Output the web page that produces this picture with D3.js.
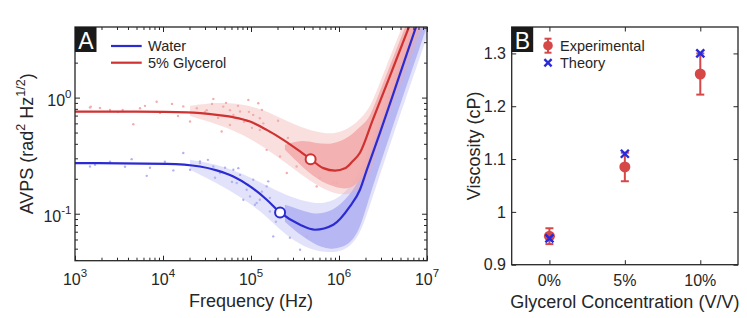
<!DOCTYPE html>
<html><head><meta charset="utf-8">
<script src="https://cdn.jsdelivr.net/npm/d3@7"></script>
<style>
body{margin:0;background:#fff}
svg{display:block}
text{font-family:"Liberation Sans",Arial,Helvetica,sans-serif;fill:#262626}
</style>
</head><body>
<svg id="chart" width="747" height="318"></svg>
<script>
// ---------------- DATA ----------------
// Panel A: tick labels
const freqMajor = [1e3, 1e4, 1e5, 1e6, 1e7];
const freqExp = ["3", "4", "5", "6", "7"];
const avpsMajor = [0.1, 1];
const avpsExp = ["-1", "0"];

// Panel A: fitted model curves (Hz, rad^2 Hz^1/2)
const waterFitF = [1e3, 1.1e4, 2.63e4, 4.07e4, 6.3e4, 9.75e4, 1.51e5, 2.14e5, 3.61e5, 5.33e5, 8.61e5, 1.33e6, 1.73e6, 2.07e6, 2.92e6, 4.68e6, 7.5e6, 1e7];
const waterFitV = [0.273, 0.269, 0.255, 0.236, 0.209, 0.172, 0.132, 0.1026, 0.0804, 0.0728, 0.0804, 0.1156, 0.161, 0.239, 0.497, 1.42, 4.06, 7.6];
const glycFitF = [1e3, 5e3, 1.88e4, 4.07e4, 6.24e4, 9.75e4, 1.51e5, 2.33e5, 3.61e5, 4.76e5, 6.64e5, 9.02e5, 1.17e6, 1.41e6, 1.73e6, 2.42e6, 3.8e6, 6.24e6, 1e7];
const glycFitV = [0.758, 0.756, 0.745, 0.710, 0.678, 0.622, 0.527, 0.433, 0.344, 0.295, 0.247, 0.235, 0.246, 0.280, 0.335, 0.643, 1.54, 4.06, 10.5];

// Panel A: highlighted points (open circles)
const waterMarkF = [2.14e5];
const waterMarkV = [0.1026];
const glycMarkF = [4.76e5];
const glycMarkV = [0.295];

// Panel A: measured cloud, sparse outer envelope (Hz, low, high)
const waterOuterF = [2.03e4, 4.45e4, 8.55e4, 1.44e5, 2.43e5, 4.11e5, 6.93e5, 1.17e6, 1.73e6, 2.25e6, 2.92e6, 3.8e6, 4.94e6, 6.41e6, 8.32e6, 1e7];
const waterOuterLo = [0.239, 0.178, 0.132, 0.098, 0.0659, 0.0510, 0.0461, 0.0471, 0.0647, 0.1195, 0.216, 0.392, 0.710, 1.26, 2.24, 3.33];
const waterOuterHi = [0.291, 0.264, 0.216, 0.178, 0.146, 0.127, 0.1195, 0.146, 0.230, 0.400, 0.696, 1.24, 2.24, 3.97, 6.92, 6.92];
// dense core envelope
const waterCoreF = [2.43e5, 3.61e5, 5.34e5, 7.9e5, 1.03e6, 1.33e6, 1.73e6, 2.25e6, 2.92e6, 3.8e6, 4.94e6, 6.41e6, 8.32e6, 1e7];
const waterCoreLo = [0.0853, 0.0659, 0.0541, 0.0490, 0.0510, 0.0552, 0.0728, 0.146, 0.264, 0.478, 0.866, 1.54, 2.73, 4.14];
const waterCoreHi = [0.1195, 0.108, 0.098, 0.104, 0.1195, 0.146, 0.196, 0.341, 0.594, 1.05, 1.91, 3.40, 6.02, 6.92];

const glycOuterF = [2.03e4, 4.45e4, 9.75e4, 1.87e5, 3.16e5, 5.34e5, 9.01e5, 1.41e6, 1.97e6, 2.37e6, 2.92e6, 3.8e6, 4.94e6, 6.41e6, 8.32e6, 1e7];
const glycOuterLo = [0.696, 0.582, 0.450, 0.321, 0.239, 0.178, 0.146, 0.146, 0.178, 0.239, 0.433, 0.754, 1.26, 2.11, 3.53, 4.94];
const glycOuterHi = [0.849, 0.918, 0.866, 0.710, 0.582, 0.507, 0.478, 0.560, 0.72, 0.90, 1.34, 2.24, 3.67, 6.1, 6.92, 6.92];
const glycCoreF = [2.43e5, 3.61e5, 5.34e5, 7.9e5, 1.17e6, 1.52e6, 1.97e6, 2.25e6, 2.92e6, 3.8e6, 4.94e6, 6.41e6, 8.32e6, 1e7];
const glycCoreLo = [0.355, 0.264, 0.204, 0.174, 0.161, 0.174, 0.216, 0.321, 0.560, 0.937, 1.57, 2.57, 4.30, 5.90];
const glycCoreHi = [0.392, 0.433, 0.408, 0.392, 0.433, 0.510, 0.610, 0.682, 1.14, 1.89, 3.13, 5.25, 6.92, 6.92];

// Panel A: sparse measured points
const waterDotF = [1480, 1690, 2500, 3700, 4400, 6530, 7110, 10500, 13100, 17000, 20300, 26300, 26300, 32400, 37300, 39000, 44400, 50700, 60800, 63000, 68800, 71800, 75000, 81900, 89300, 92500, 97500, 106000, 111000, 116000, 126000, 133000, 150700, 157000, 164000, 164000, 179000, 192000, 277000, 361000, 430000];
const waterDotV = [0.255, 0.264, 0.280, 0.254, 0.295, 0.212, 0.249, 0.280, 0.236, 0.333, 0.239, 0.282, 0.273, 0.291, 0.255, 0.204, 0.224, 0.249, 0.188, 0.239, 0.184, 0.247, 0.216, 0.132, 0.161, 0.178, 0.141, 0.196, 0.1195, 0.124, 0.132, 0.155, 0.172, 0.19, 0.1047, 0.137, 0.0638, 0.0853, 0.0622, 0.049, 0.0638];
const glycDotF = [1480, 1510, 1920, 2500, 3080, 3480, 4600, 5480, 6240, 8470, 9250, 12650, 14800, 17000, 20300, 24200, 30000, 31400, 36100, 37300, 42200, 46400, 48400, 52000, 57700, 57700, 63100, 71100, 75000, 83200, 93300, 94800, 102600, 106000, 121000, 126000, 126000, 133000, 138000, 150700, 164000, 203000, 214000, 255000, 263000, 330000, 558000, 608000, 861000, 942000];
const glycDotV = [0.82, 0.837, 0.815, 0.784, 0.754, 0.784, 0.59, 0.81, 0.849, 0.92, 0.738, 0.883, 0.696, 0.84, 0.622, 0.81, 0.754, 0.78, 0.883, 0.975, 0.669, 0.51, 0.837, 0.90, 0.78, 0.582, 0.71, 0.849, 0.76, 0.618, 0.955, 0.754, 0.549, 0.71, 0.895, 0.665, 0.527, 0.784, 0.60, 0.355, 0.507, 0.631, 0.311, 0.224, 0.450, 0.255, 0.172, 0.203, 0.184, 0.184];

const legendA = ["Water", "5% Glycerol"];

// Panel B
const conc = [0, 5, 10];
const concLabels = ["0%", "5%", "10%"];
const expMean = [0.954, 1.085, 1.261];
const expErr = [0.015, 0.027, 0.039];
const theory = [0.950, 1.110, 1.300];
const viscTicks = [0.9, 1.0, 1.1, 1.2, 1.3];
const viscTickLabels = ["0.9", "1", "1.1", "1.2", "1.3"];
const legendB = ["Experimental", "Theory"];

// ---------------- STYLE ----------------
const INK = "#262626";
const BLUE = "#2b2bd2";
const RED = "#d03131";
const BLUE_PT = "#b2b2f2";
const RED_PT = "#f2acac";
const EXP_RED = "#d64848";
const TH_BLUE = "#2929d8";

const svg = d3.select("#chart");
svg.append("rect").attr("width", 747).attr("height", 318).attr("fill", "#fff");
const defs = svg.append("defs");

// ================= PANEL A =================
const A = {l: 75, r: 427, t: 27, b: 260.7};
const xA = d3.scaleLog().domain([1e3, 1e7]).range([A.l, A.r]);
const yA = d3.scaleLog().domain([0.0394, 4.055]).range([A.b, A.t]);

defs.append("clipPath").attr("id", "clipA").append("rect")
  .attr("x", A.l).attr("y", A.t).attr("width", A.r - A.l).attr("height", A.b - A.t);
const pA = svg.append("g").attr("clip-path", "url(#clipA)");

function bandPath(F, LO, HI) {
  return d3.area()
    .x((d, i) => xA(F[i])).y0((d, i) => yA(LO[i])).y1((d, i) => yA(HI[i]))
    .curve(d3.curveBasis)(F);
}
function linePath(F, V) {
  return d3.line().x((d, i) => xA(F[i])).y((d, i) => yA(V[i])).curve(d3.curveMonotoneX)(F);
}

// water cloud
pA.append("path").attr("d", bandPath(waterOuterF, waterOuterLo, waterOuterHi)).attr("fill", BLUE_PT).attr("opacity", 0.38);
pA.append("path").attr("d", bandPath(waterCoreF, waterCoreLo, waterCoreHi)).attr("fill", BLUE_PT).attr("opacity", 0.9);
pA.selectAll(".wd").data(waterDotF).join("circle").attr("cx", (d) => xA(d)).attr("cy", (d, i) => yA(waterDotV[i])).attr("r", 1.2).attr("fill", BLUE_PT);
// glycerol cloud
pA.append("path").attr("d", bandPath(glycOuterF, glycOuterLo, glycOuterHi)).attr("fill", RED_PT).attr("opacity", 0.38);
pA.append("path").attr("d", bandPath(glycCoreF, glycCoreLo, glycCoreHi)).attr("fill", RED_PT).attr("opacity", 0.9);
pA.selectAll(".gd").data(glycDotF).join("circle").attr("cx", (d) => xA(d)).attr("cy", (d, i) => yA(glycDotV[i])).attr("r", 1.2).attr("fill", RED_PT);
// fits
pA.append("path").attr("d", linePath(waterFitF, waterFitV)).attr("fill", "none").attr("stroke", BLUE).attr("stroke-width", 2.2);
pA.append("path").attr("d", linePath(glycFitF, glycFitV)).attr("fill", "none").attr("stroke", RED).attr("stroke-width", 2.2);
pA.selectAll(".wm").data(waterMarkF).join("circle").attr("cx", (d) => xA(d)).attr("cy", (d, i) => yA(waterMarkV[i])).attr("r", 5).attr("fill", "#fff").attr("stroke", BLUE).attr("stroke-width", 2);
pA.selectAll(".gm").data(glycMarkF).join("circle").attr("cx", (d) => xA(d)).attr("cy", (d, i) => yA(glycMarkV[i])).attr("r", 5).attr("fill", "#fff").attr("stroke", RED).attr("stroke-width", 2);

// axes A
const xMinor = xA.ticks().filter(v => !freqMajor.some(m => Math.abs(v / m - 1) < 1e-6));
const yMinor = yA.ticks().filter(v => !avpsMajor.some(m => Math.abs(v / m - 1) < 1e-6));
function styleAxis(g) {
  g.select(".domain").remove();
  g.selectAll("line").attr("stroke", INK).attr("stroke-width", 1);
  g.selectAll("text").remove();
}
svg.append("g").attr("transform", `translate(0,${A.b})`).call(d3.axisBottom(xA).tickValues(freqMajor).tickSizeInner(-5).tickSizeOuter(0)).call(styleAxis);
svg.append("g").attr("transform", `translate(0,${A.b})`).call(d3.axisBottom(xA).tickValues(xMinor).tickSizeInner(-3).tickSizeOuter(0)).call(styleAxis);
svg.append("g").attr("transform", `translate(0,${A.t})`).call(d3.axisTop(xA).tickValues(freqMajor).tickSizeInner(-5).tickSizeOuter(0)).call(styleAxis);
svg.append("g").attr("transform", `translate(0,${A.t})`).call(d3.axisTop(xA).tickValues(xMinor).tickSizeInner(-3).tickSizeOuter(0)).call(styleAxis);
svg.append("g").attr("transform", `translate(${A.l},0)`).call(d3.axisLeft(yA).tickValues(avpsMajor).tickSizeInner(-5).tickSizeOuter(0)).call(styleAxis);
svg.append("g").attr("transform", `translate(${A.l},0)`).call(d3.axisLeft(yA).tickValues(yMinor).tickSizeInner(-3).tickSizeOuter(0)).call(styleAxis);
svg.append("g").attr("transform", `translate(${A.r},0)`).call(d3.axisRight(yA).tickValues(avpsMajor).tickSizeInner(-5).tickSizeOuter(0)).call(styleAxis);
svg.append("g").attr("transform", `translate(${A.r},0)`).call(d3.axisRight(yA).tickValues(yMinor).tickSizeInner(-3).tickSizeOuter(0)).call(styleAxis);
svg.append("rect").attr("x", A.l).attr("y", A.t).attr("width", A.r - A.l).attr("height", A.b - A.t)
  .attr("fill", "none").attr("stroke", INK).attr("stroke-width", 1.3);

// tick labels A
freqMajor.forEach((v, i) => {
  const t = svg.append("text").attr("x", xA(v)).attr("y", A.b + 24.5).attr("text-anchor", "middle").attr("font-size", 16);
  t.append("tspan").text("10");
  t.append("tspan").attr("dy", -8).attr("font-size", 11.5).text(freqExp[i]);
});
avpsMajor.forEach((v, i) => {
  const t = svg.append("text").attr("x", 71.5).attr("y", yA(v) + 8.5).attr("text-anchor", "end").attr("font-size", 16);
  t.append("tspan").text("10");
  t.append("tspan").attr("dy", -8).attr("font-size", 11.5).text(avpsExp[i]);
});
svg.append("text").attr("x", (A.l + A.r) / 2).attr("y", 307).attr("text-anchor", "middle").attr("font-size", 18).text("Frequency (Hz)");
{
  const t = svg.append("text").attr("transform", `translate(33,${(A.t + A.b) / 2}) rotate(-90)`).attr("text-anchor", "middle").attr("font-size", 18);
  t.append("tspan").text("AVPS (rad");
  t.append("tspan").attr("dy", -8).attr("font-size", 12.5).text("2");
  t.append("tspan").attr("dy", 8).text(" Hz");
  t.append("tspan").attr("dy", -8).attr("font-size", 12.5).text("1/2");
  t.append("tspan").attr("dy", 8).text(")");
}
// legend A
[BLUE, RED].forEach((c, i) => {
  const y = 46 + i * 16.7;
  svg.append("line").attr("x1", 111).attr("x2", 141.7).attr("y1", y).attr("y2", y).attr("stroke", c).attr("stroke-width", 2.2);
  svg.append("text").attr("x", 148).attr("y", y + 5.2).attr("font-size", 14.5).text(legendA[i]);
});
// panel label A
svg.append("rect").attr("x", A.l).attr("y", A.t).attr("width", 21.5).attr("height", 25).attr("fill", "#1a1a1a");
svg.append("text").attr("x", A.l + 10.8).attr("y", A.t + 21.5).attr("text-anchor", "middle").attr("font-size", 23).style("fill", "#fff").text("A");

// ================= PANEL B =================
const B = {l: 511.7, r: 738, t: 27, b: 264.7};
const xB = d3.scaleLinear().domain([-2.5, 12.5]).range([B.l, B.r]);
const yB = d3.scaleLinear().domain([0.9, 1.35]).range([B.b, B.t]);

svg.append("g").attr("transform", `translate(0,${B.b})`).call(d3.axisBottom(xB).tickValues(conc).tickSizeInner(-4.5).tickSizeOuter(0)).call(styleAxis);
svg.append("g").attr("transform", `translate(0,${B.t})`).call(d3.axisTop(xB).tickValues(conc).tickSizeInner(-4.5).tickSizeOuter(0)).call(styleAxis);
svg.append("g").attr("transform", `translate(${B.l},0)`).call(d3.axisLeft(yB).tickValues(viscTicks).tickSizeInner(-4.5).tickSizeOuter(0)).call(styleAxis);
svg.append("g").attr("transform", `translate(${B.r},0)`).call(d3.axisRight(yB).tickValues(viscTicks).tickSizeInner(-4.5).tickSizeOuter(0)).call(styleAxis);
svg.append("rect").attr("x", B.l).attr("y", B.t).attr("width", B.r - B.l).attr("height", B.b - B.t)
  .attr("fill", "none").attr("stroke", INK).attr("stroke-width", 1.3);

conc.forEach((v, i) => {
  svg.append("text").attr("x", xB(v)).attr("y", B.b + 21).attr("text-anchor", "middle").attr("font-size", 16).text(concLabels[i]);
});
viscTicks.forEach((v, i) => {
  svg.append("text").attr("x", 506).attr("y", yB(v) + 5.7).attr("text-anchor", "end").attr("font-size", 16).text(viscTickLabels[i]);
});
svg.append("text").attr("x", (B.l + B.r) / 2).attr("y", 307.5).attr("text-anchor", "middle").attr("font-size", 18).text("Glycerol Concentration (V/V)");
svg.append("text").attr("transform", `translate(480,${(B.t + B.b) / 2}) rotate(-90)`).attr("text-anchor", "middle").attr("font-size", 18).text("Viscosity (cP)");

// experimental error bars
const gE = svg.append("g");
conc.forEach((c, i) => {
  const x = xB(c), y0 = yB(expMean[i] - expErr[i]), y1 = yB(expMean[i] + expErr[i]);
  gE.append("line").attr("x1", x).attr("x2", x).attr("y1", y0).attr("y2", y1).attr("stroke", EXP_RED).attr("stroke-width", 2);
  gE.append("line").attr("x1", x - 4).attr("x2", x + 4).attr("y1", y0).attr("y2", y0).attr("stroke", EXP_RED).attr("stroke-width", 2);
  gE.append("line").attr("x1", x - 4).attr("x2", x + 4).attr("y1", y1).attr("y2", y1).attr("stroke", EXP_RED).attr("stroke-width", 2);
  gE.append("circle").attr("cx", x).attr("cy", yB(expMean[i])).attr("r", 5.5).attr("fill", EXP_RED);
});
function xMark(g, x, y, s) {
  g.append("path").attr("d", `M${x - s},${y - s}L${x + s},${y + s}M${x - s},${y + s}L${x + s},${y - s}`)
    .attr("stroke", TH_BLUE).attr("stroke-width", 2.4).attr("fill", "none");
}
conc.forEach((c, i) => xMark(gE, xB(c), yB(theory[i]), 4));

// legend B
{
  const lx = 548, ly = 45.7;
  svg.append("line").attr("x1", lx).attr("x2", lx).attr("y1", ly - 7).attr("y2", ly + 7).attr("stroke", EXP_RED).attr("stroke-width", 2);
  svg.append("line").attr("x1", lx - 3.5).attr("x2", lx + 3.5).attr("y1", ly - 7).attr("y2", ly - 7).attr("stroke", EXP_RED).attr("stroke-width", 2);
  svg.append("line").attr("x1", lx - 3.5).attr("x2", lx + 3.5).attr("y1", ly + 7).attr("y2", ly + 7).attr("stroke", EXP_RED).attr("stroke-width", 2);
  svg.append("circle").attr("cx", lx).attr("cy", ly).attr("r", 4.8).attr("fill", EXP_RED);
  svg.append("text").attr("x", 560).attr("y", ly + 5.2).attr("font-size", 14.5).text(legendB[0]);
  xMark(svg, lx, 62.7, 3.6);
  svg.append("text").attr("x", 560).attr("y", 62.7 + 5.2).attr("font-size", 14.5).text(legendB[1]);
}
// panel label B
svg.append("rect").attr("x", B.l).attr("y", B.t).attr("width", 21.5).attr("height", 25).attr("fill", "#1a1a1a");
svg.append("text").attr("x", B.l + 10.8).attr("y", B.t + 21.5).attr("text-anchor", "middle").attr("font-size", 23).style("fill", "#fff").text("B");
</script>
</body></html>
